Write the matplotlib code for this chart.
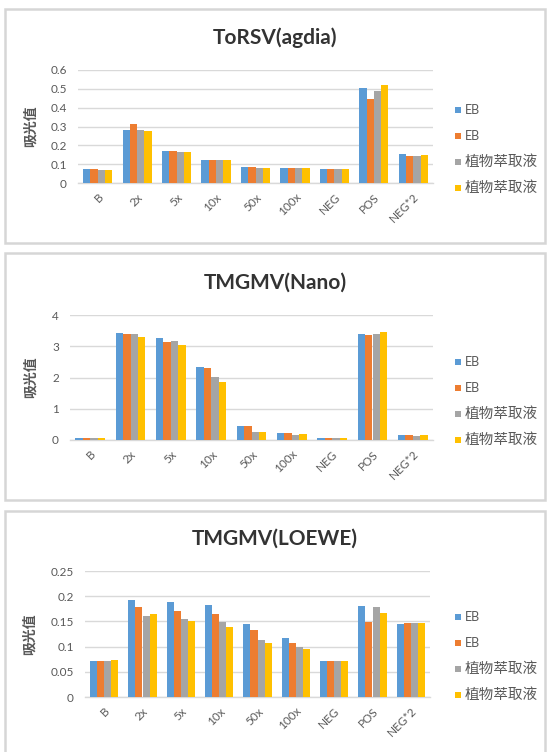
import matplotlib
matplotlib.use("Agg")
import matplotlib.pyplot as plt
import numpy as np
from matplotlib.patches import Rectangle

plt.rcParams['font.family'] = ['Lato', 'Noto Sans CJK TC', 'DejaVu Sans']

categories = ["B", "2x", "5x", "10x", "50x", "100x", "NEG", "POS", "NEG*2"]
series_names = ["EB", "EB", "植物萃取液", "植物萃取液"]
colors = ["#5B9BD5", "#ED7D31", "#A5A5A5", "#FFC000"]

# ToRSV (agdia)
torsv_eb1 = [0.076, 0.282, 0.168, 0.120, 0.083, 0.079, 0.076, 0.506, 0.155]
torsv_eb2 = [0.074, 0.312, 0.168, 0.120, 0.083, 0.078, 0.074, 0.444, 0.143]
torsv_pl1 = [0.071, 0.282, 0.162, 0.120, 0.080, 0.078, 0.073, 0.490, 0.143]
torsv_pl2 = [0.071, 0.277, 0.162, 0.120, 0.080, 0.079, 0.074, 0.520, 0.148]

# TMGMV (Nano)
nano_eb1 = [0.07, 3.41, 3.26, 2.35, 0.44, 0.24, 0.07, 3.39, 0.15]
nano_eb2 = [0.07, 3.39, 3.13, 2.29, 0.44, 0.21, 0.07, 3.37, 0.15]
nano_pl1 = [0.07, 3.39, 3.18, 2.03, 0.26, 0.15, 0.07, 3.40, 0.14]
nano_pl2 = [0.07, 3.31, 3.04, 1.87, 0.26, 0.18, 0.07, 3.45, 0.15]

# TMGMV (LOEWE)
loewe_eb1 = [0.071, 0.192, 0.189, 0.182, 0.145, 0.118, 0.071, 0.180, 0.145]
loewe_eb2 = [0.071, 0.178, 0.171, 0.164, 0.133, 0.107, 0.072, 0.149, 0.147]
loewe_pl1 = [0.072, 0.161, 0.155, 0.148, 0.113, 0.099, 0.072, 0.178, 0.147]
loewe_pl2 = [0.074, 0.164, 0.150, 0.139, 0.107, 0.095, 0.072, 0.166, 0.147]

titles = ["ToRSV(agdia)", "TMGMV(Nano)", "TMGMV(LOEWE)"]
yticks = [[0, 0.1, 0.2, 0.3, 0.4, 0.5, 0.6],
          [0, 1, 2, 3, 4],
          [0, 0.05, 0.1, 0.15, 0.2, 0.25]]
ytick_labels = [["0", "0.1", "0.2", "0.3", "0.4", "0.5", "0.6"],
                ["0", "1", "2", "3", "4"],
                ["0", "0.05", "0.1", "0.15", "0.2", "0.25"]]
panels = [
    [torsv_eb1, torsv_eb2, torsv_pl1, torsv_pl2],
    [nano_eb1, nano_eb2, nano_pl1, nano_pl2],
    [loewe_eb1, loewe_eb2, loewe_pl1, loewe_pl2],
]

W, H = 550, 752
fig = plt.figure(figsize=(W / 100, H / 100), dpi=100)

def fx(px):
    return px / W

def fy(py):
    return 1 - py / H

# panel frames: (x0, y0, x1, y1) in pixels
frames = [(5, 9, 545, 243), (5, 253, 545, 500), (5, 511, 545, 762)]
# axes boxes in pixels
axboxes = [(78, 70, 433, 183), (70, 315, 433, 440), (85, 571, 430, 697)]
title_y = [38, 283, 539]
ylabel_x = [37, 37, 36]
legend_first = [110, 362, 617]
legend_step = [26, 26, 26]

text_color = "#595959"
grid_color = "#D9D9D9"

for i in range(3):
    x0, y0, x1, y1 = frames[i]
    fig.patches.append(Rectangle((fx(x0), fy(y1)), fx(x1 - x0), (y1 - y0) / H,
                                 transform=fig.transFigure, fill=False,
                                 edgecolor="#D6D6D6", lw=1.8, zorder=0))
    ax0, ay0, ax1, ay1 = axboxes[i]
    ax = fig.add_axes([fx(ax0), fy(ay1), fx(ax1 - ax0), (ay1 - ay0) / H])
    data = panels[i]
    n = len(categories)
    x = np.arange(n)
    bw = 0.185
    for k, vals in enumerate(data):
        ax.bar(x + (k - 1.5) * bw, vals, width=bw, color=colors[k],
               zorder=3, label=series_names[k])
    ax.set_xlim(-0.5, n - 0.5)
    ax.set_ylim(yticks[i][0], yticks[i][-1])
    ax.set_yticks(yticks[i])
    ax.set_yticklabels(ytick_labels[i])
    ax.yaxis.grid(True, color=grid_color, lw=1.0, zorder=0)
    ax.set_axisbelow(True)
    for s in ["top", "right", "left"]:
        ax.spines[s].set_visible(False)
    ax.spines["bottom"].set_color(grid_color)
    ax.spines["bottom"].set_linewidth(1.0)
    ax.tick_params(axis="both", length=0, colors=text_color, labelsize=8.5)
    ax.tick_params(axis="y", pad=8)
    ax.set_xticks(x)
    ax.set_xticklabels(categories, rotation=45, ha="right",
                       rotation_mode="anchor")
    ax.tick_params(axis="x", pad=6)
    ax.set_ylabel("吸光值", color=text_color, fontsize=10, fontweight="bold")
    ax.yaxis.set_label_coords(fx(ylabel_x[i] - ax0) / fx(ax1 - ax0), 0.5)

    fig.text(fx((x0 + x1) / 2), fy(title_y[i]), titles[i], ha="center",
             va="center", fontsize=15, fontweight="bold", color="#333333")

    for k in range(4):
        ly = legend_first[i] + k * legend_step[i]
        fig.patches.append(Rectangle((fx(455), fy(ly + 3)), fx(6), 6 / H,
                                     transform=fig.transFigure,
                                     facecolor=colors[k], edgecolor="none"))
        size = 9 if series_names[k] == "EB" else 10.5
        fig.text(fx(465), fy(ly), series_names[k], ha="left", va="center",
                 fontsize=size, color=text_color)

fig.savefig("out.png", dpi=100, facecolor="white")
